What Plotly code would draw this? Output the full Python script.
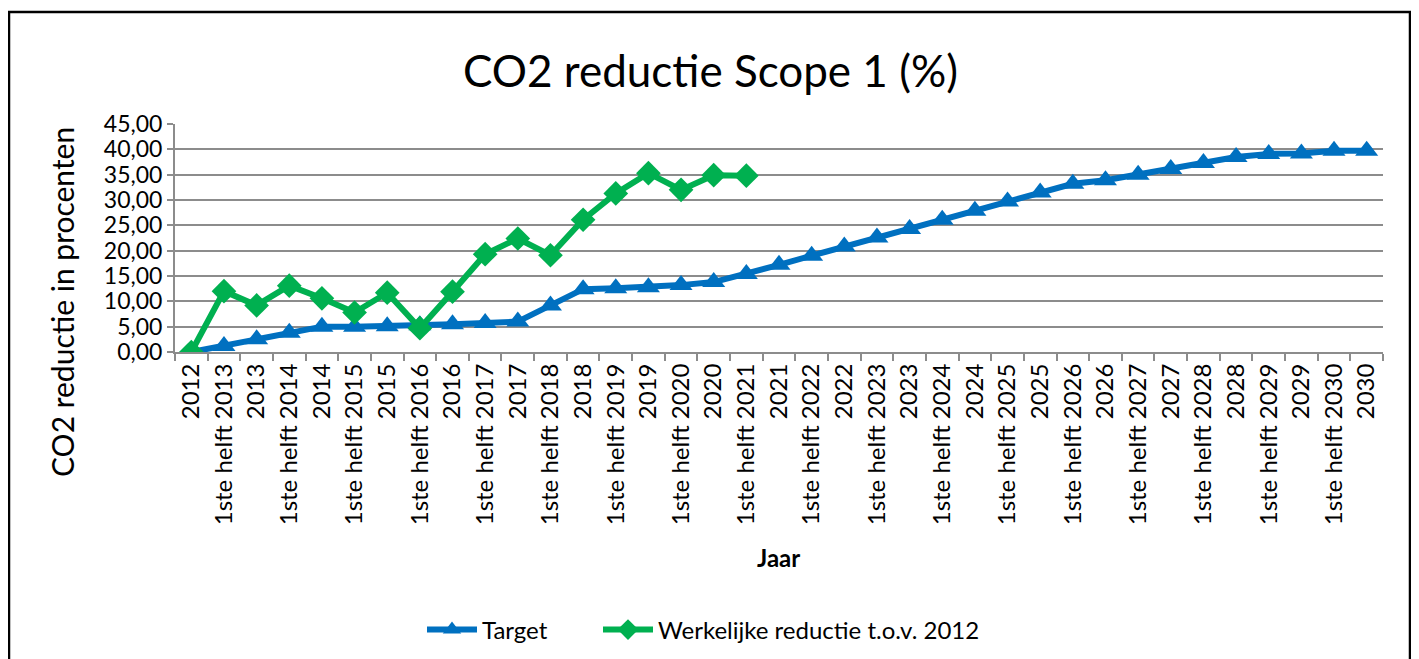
import plotly.graph_objects as go

categories = ["2012"]
for y in range(2013, 2031):
    categories += [f"1ste helft {y}", f"{y}"]

target = [0.0, 1.2, 2.5, 3.8, 5.0, 5.0, 5.1, 5.3, 5.5, 5.7, 6.0, 9.2, 12.4, 12.6, 12.8, 13.2, 13.8,
          15.4, 17.2, 19.0, 20.8, 22.6, 24.3, 26.1, 27.9, 29.7, 31.5, 33.2, 33.9, 35.0, 36.1,
          37.3, 38.5, 39.1, 39.2, 39.7, 39.7]
werkelijk = [0.0, 12.0, 9.2, 13.1, 10.6, 7.8, 11.7, 4.7, 11.9, 19.3, 22.4, 19.1, 26.1, 31.3,
             35.3, 32.0, 34.9, 34.8]

y_tickvals = [0, 5, 10, 15, 20, 25, 30, 35, 40, 45]
y_ticktext = ["0,00", "5,00", "10,00", "15,00", "20,00", "25,00", "30,00", "35,00", "40,00", "45,00"]

FONT = "Lato"
W, H = 1419, 659
OFF = 8  # page body margin
L, R, T, B = 175 - OFF, 1383 - OFF, 124 - OFF, 352 - OFF

fig = go.Figure()
fig.add_trace(go.Scatter(
    x=categories, y=target, name="Target", mode="lines+markers",
    line=dict(color="#0070C0", width=6),
    marker=dict(symbol="triangle-up", size=20, color="#0070C0"),
    legend="legend",
))
fig.add_trace(go.Scatter(
    x=categories[:len(werkelijk)], y=werkelijk, name="Werkelijke reductie t.o.v. 2012",
    mode="lines+markers",
    line=dict(color="#00B050", width=6),
    marker=dict(symbol="diamond", size=19, color="#00B050"),
    legend="legend2",
))

pw, ph = R - L, B - T
def px(x):
    return (x - OFF - L) / pw
def py(y):
    return (B - (y - OFF)) / ph

leg_common = dict(orientation="h", xref="container", yref="container", xanchor="left",
                  yanchor="middle", y=1 - (630 - OFF) / H, font=dict(size=24, family=FONT),
                  bgcolor="rgba(0,0,0,0)", itemwidth=50)

fig.update_layout(
    width=W, height=H,
    margin=dict(l=L, r=W - R, t=T, b=H - B, autoexpand=False),
    paper_bgcolor="white", plot_bgcolor="white",
    font=dict(family=FONT, color="black", size=23),
    showlegend=True,
    legend=dict(x=(422 - OFF) / W, **leg_common),
    legend2=dict(x=(598 - OFF) / W, **leg_common),
    xaxis=dict(type="category", categoryorder="array", categoryarray=categories,
               tickangle=-90, tickfont=dict(size=24, family=FONT), automargin=False,
               showline=True, linecolor="#8c8c8c", linewidth=2,
               ticks="outside", tickson="boundaries", ticklen=7, tickcolor="#8c8c8c", tickwidth=2,
               showgrid=False, range=[-0.5, len(categories) - 0.5], fixedrange=True),
    yaxis=dict(range=[0, 45], tickvals=y_tickvals, ticktext=y_ticktext,
               tickfont=dict(size=23, family=FONT), automargin=False,
               showline=True, linecolor="#8c8c8c", linewidth=2,
               ticks="outside", ticklen=6, tickcolor="#8c8c8c", tickwidth=2,
               showgrid=True, gridcolor="#8c8c8c", gridwidth=2, zeroline=False, fixedrange=True),
)

fig.add_annotation(text="CO2 reductie Scope 1 (%)", xref="paper", yref="paper",
                   x=px(710), y=py(70), xanchor="center", yanchor="middle",
                   showarrow=False, font=dict(size=44, family=FONT))
fig.add_annotation(text="CO2 reductie in procenten", xref="paper", yref="paper",
                   x=px(62), y=py(302), xanchor="center", yanchor="middle", textangle=-90,
                   showarrow=False, font=dict(size=30, family=FONT))
fig.add_annotation(text="<b>Jaar</b>", xref="paper", yref="paper",
                   x=px(778), y=py(557), xanchor="center", yanchor="middle",
                   showarrow=False, font=dict(size=24, family=FONT))

fig.add_shape(type="rect", xref="paper", yref="paper",
              x0=px(9), x1=px(1410), y0=py(12), y1=py(700),
              line=dict(color="black", width=2.5), fillcolor="rgba(0,0,0,0)", layer="above")

fig.write_html("out.html")
